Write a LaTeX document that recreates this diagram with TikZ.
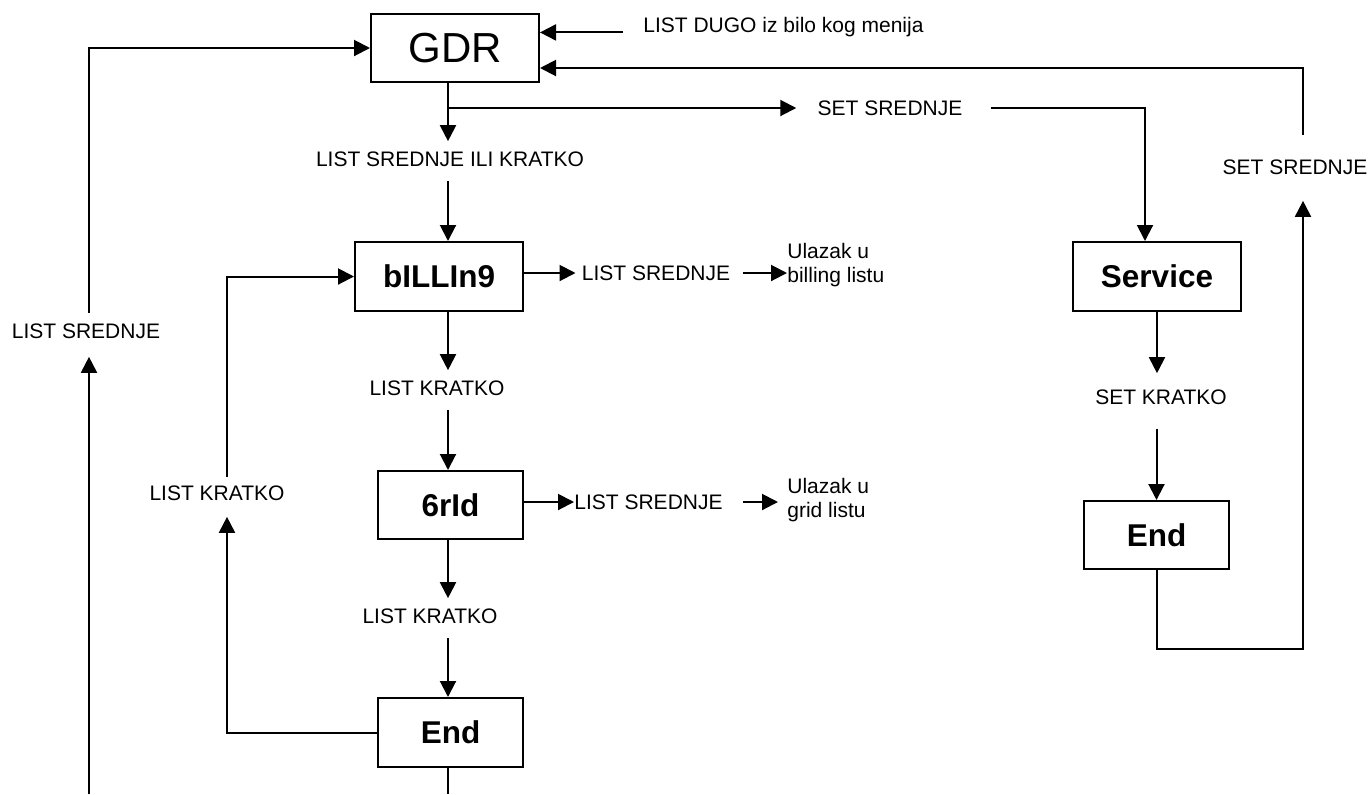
\documentclass[tikz,border=0pt]{standalone}
\usepackage{fontspec}
\setmainfont{Liberation Sans}
\usetikzlibrary{arrows.meta}
\tikzset{
	state/.style={draw,line width=1pt,inner sep=0pt,minimum width=84pt,minimum height=34.5pt,
		font=\fontsize{15.75}{18}\selectfont\bfseries},
	cond/.style={inner sep=0pt,font=\fontsize{10.5}{12}\selectfont},
	arr/.style={line width=1pt,-{Triangle[length=8pt,width=8pt]}},
	wire/.style={line width=1pt}
}
\begin{document}
\begin{tikzpicture}[x=0.5pt,y=-0.5pt]
		\useasboundingbox (0,0) rectangle (1370,794);
		% states
		\node[state,font=\fontsize{21}{24}\selectfont,minimum height=34pt] (gdr) at (455,48) {GDR};
		\node[state] (bill) at (439,276.5) {bILLIn9};
		\node[state,minimum width=72.5pt,minimum height=34pt] (grid) at (450.5,505) {6rId};
		\node[state,minimum width=72.5pt] (endL) at (450.5,732.5) {End};
		\node[state] (serv) at (1157,276.5) {Service};
		\node[state,minimum width=72.5pt,minimum height=34pt] (endR) at (1156.5,535) {End};
		% conditions
		\node[cond] (lsik) at (450,159) {LIST SREDNJE ILI KRATKO};
		\node[cond] (lk1) at (437,388) {LIST KRATKO};
		\node[cond] (lk2) at (430,616) {LIST KRATKO};
		\node[cond] (ss1) at (890,108) {SET SREDNJE};
		\node[cond,anchor=west] (ld) at (643,27) {LIST DUGO iz bilo kog menija};
		\node[cond] (ss2) at (1295,167) {SET SREDNJE};
		\node[cond] (sk) at (1161,397) {SET KRATKO};
		\node[cond] (lsl) at (86,331) {LIST SREDNJE};
		\node[cond] (lkl) at (217,493) {LIST KRATKO};
		\node[cond] (ls1) at (656,273) {LIST SREDNJE};
		\node[cond] (ls2) at (648.5,502) {LIST SREDNJE};
		\node[cond,anchor=west,align=left] (ul1) at (787,265) {Ulazak u\\billing listu};
		\node[cond,anchor=west,align=left] (ul2) at (787,500) {Ulazak u\\grid listu};
		% columns and loose ends
		\coordinate (cm) at (448,0);
		\coordinate (cl) at (89,794);
		\coordinate (ck) at (227,0);
		\coordinate (cs) at (1145,0);
		\coordinate (cr) at (1303,649);
		\coordinate (eb) at (448,794);
		% main column
		\draw[arr] (cm |- gdr.south) -- ([yshift=5pt]cm |- lsik.north);
		\draw[arr] ([yshift=-7pt]cm |- lsik.south) -- (cm |- bill.north);
		\draw[arr] (cm |- bill.south) -- ([yshift=5pt]cm |- lk1.north);
		\draw[arr] ([yshift=-7pt]cm |- lk1.south) -- (cm |- grid.north);
		\draw[arr] (cm |- grid.south) -- ([yshift=5pt]cm |- lk2.north);
		\draw[arr] ([yshift=-7pt]cm |- lk2.south) -- (cm |- endL.north);
		\draw[wire] (cm |- endL.south) -- (eb);
		% side exits
		\draw[arr] (bill.east |- ls1.west) -- ([xshift=-3pt]ls1.west);
		\draw[arr] ([xshift=6pt]ls1.east) -- (ul1.west |- ls1.east);
		\draw[arr] (grid.east |- ls2.west) -- (ls2.west);
		\draw[arr] ([xshift=10pt]ls2.east) -- ([xshift=-4.5pt]ul2.west |- ls2.east);
		\draw[arr] ([xshift=-10pt]ld.base west) -- (gdr.east |- ld.base west);
		% loops back
		\draw[arr] (endL.west) -| ([yshift=-8pt]ck |- lkl.south);
		\draw[arr] ([yshift=4pt]ck |- lkl.north) |- (bill.west);
		\draw[arr] (cl) -- ([yshift=-9pt]cl |- lsl.south);
		\draw[arr] ([yshift=5pt]cl |- lsl.north) |- (gdr.west);
		% service branch
		\draw[arr] (cm |- ss1.west) -- ([xshift=-10.5pt]ss1.west);
		\draw[arr] ([xshift=14pt]ss1.east) -| (cs |- serv.north);
		\draw[arr] (serv.south) -- ([yshift=8pt]serv.south |- sk.north);
		\draw[arr] ([yshift=-12pt]endR.north |- sk.south) -- (endR.north);
		\draw[arr] (endR.south) |- (cr) -- ([yshift=-13pt]cr |- ss2.south);
		\draw[arr] ([yshift=12pt]cr |- ss2.north) |- ([yshift=-10pt]gdr.east);
	\end{tikzpicture}
\end{document}
